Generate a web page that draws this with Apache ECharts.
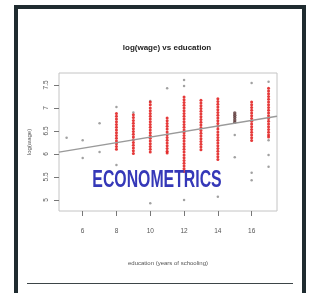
<!DOCTYPE html>
<html>
<head>
<meta charset="utf-8">
<script src="https://cdn.jsdelivr.net/npm/echarts@6/dist/echarts.min.js"></script>
<style>
html,body{margin:0;padding:0;background:#fff;}
#main{width:310px;height:293px;}
</style>
</head>
<body>
<div id="main"></div>
<script>
// education levels with the dense red columns
var eduLevels = [8, 9, 10, 11, 12, 13, 14, 16, 17];
var redCols = [
    [6.88,6.82,6.76,6.7,6.64,6.58,6.52,6.46,6.4,6.34,6.28,6.22,6.16,6.1],
    [6.85,6.79,6.73,6.67,6.61,6.55,6.49,6.43,6.37,6.31,6.25,6.19,6.13,6.07,6.01],
    [7.13,7.07,7.0,6.94,6.88,6.82,6.76,6.7,6.64,6.58,6.52,6.46,6.4,6.34,6.28,6.22,6.16,6.1,6.04],
    [6.78,6.72,6.66,6.6,6.54,6.48,6.42,6.36,6.3,6.24,6.18,6.12,6.06,6.02],
    [7.24,7.18,7.12,7.06,7.0,6.94,6.88,6.82,6.76,6.7,6.64,6.58,6.52,6.46,6.4,6.34,6.28,6.22,6.16,6.1,6.04,5.98,5.92,5.86,5.8,5.74,5.68,5.62],
    [7.17,7.11,7.05,6.99,6.93,6.87,6.81,6.75,6.69,6.63,6.57,6.51,6.45,6.39,6.33,6.27,6.21,6.15,6.09],
    [7.2,7.14,7.08,7.02,6.96,6.9,6.84,6.78,6.72,6.66,6.6,6.54,6.48,6.42,6.36,6.3,6.24,6.18,6.12,6.06,6.0,5.94,5.88],
    [7.13,7.07,7.01,6.95,6.89,6.83,6.77,6.71,6.65,6.59,6.53,6.47,6.41,6.35,6.29],
    [7.43,7.37,7.31,7.25,7.19,7.13,7.07,7.01,6.95,6.89,6.83,6.77,6.71,6.65,6.59,6.53,6.47,6.41,6.37]
];
// dark cluster at 15 years
var darkX = [15, 15, 15, 15, 15];
var darkY = [6.89, 6.84, 6.79, 6.74, 6.69];
// scattered grey points
var greyX = [5.05, 6, 6, 7, 7, 8, 8, 9, 10, 10, 11, 12, 12, 12, 14, 15, 15, 16, 16, 16, 17, 17, 17, 17];
var greyY = [6.35, 6.3, 5.91, 6.67, 6.04, 7.02, 5.76, 6.9, 7.15, 4.93, 7.43, 7.61, 7.48, 5.0, 5.07, 6.41, 5.93, 7.54, 5.59, 5.43, 7.57, 6.3, 5.98, 5.72];
// fitted line end points
var fitX = [4.6, 17.5];
var fitY = [6.04, 6.82];
var xTicks = [6, 8, 10, 12, 14, 16];
var yTicks = [5, 5.5, 6, 6.5, 7, 7.5];

var redData = [];
for (var i = 0; i < eduLevels.length; i++) {
    for (var j = 0; j < redCols[i].length; j++) {
        redData.push([eduLevels[i], redCols[i][j]]);
    }
}
function zip(a, b) {
    return a.map(function (v, k) { return [v, b[k]]; });
}

var myChart = echarts.init(document.getElementById('main'), null, {renderer: 'canvas'});
var option = {
    animation: false,
    grid: {left: 59, right: 33, top: 73, bottom: 82, show: true, borderColor: '#c4c4c4', borderWidth: 1},
    graphic: [
        {type: 'rect', shape: {x: 16, y: 7, width: 288, height: 300}, style: {fill: 'none', stroke: '#1f2b30', lineWidth: 4}},
        {type: 'line', shape: {x1: 27, y1: 283.5, x2: 293, y2: 283.5}, style: {stroke: '#3d4548', lineWidth: 1.2}},
        {type: 'text', x: 167, y: 48, style: {text: 'log(wage) vs education', fill: '#222', font: 'bold 8px "Liberation Sans"', align: 'center', verticalAlign: 'middle'}},
        {type: 'text', x: 157, y: 180, scaleX: 0.66, originX: 0, originY: 0, z: 100,
            style: {text: 'ECONOMETRICS', fill: '#3538b8', font: 'bold 24px "Liberation Sans"', align: 'center', verticalAlign: 'middle'}}
    ],
    xAxis: {
        type: 'value', min: 4.6, max: 17.5,
        name: 'education (years of schooling)', nameLocation: 'middle', nameGap: 49,
        nameTextStyle: {fontSize: 6, color: '#555', fontFamily: 'Liberation Sans'},
        splitLine: {show: false},
        axisLine: {show: false},
        axisTick: {show: true, length: 5, lineStyle: {color: '#777'}, customValues: xTicks},
        axisLabel: {fontSize: 6.5, color: '#555', margin: 17, customValues: xTicks, fontFamily: 'Liberation Sans'}
    },
    yAxis: {
        type: 'value', min: 4.76, max: 7.76,
        name: 'log(wage)', nameLocation: 'middle', nameGap: 27, nameRotate: 90,
        nameTextStyle: {fontSize: 6, color: '#555', fontFamily: 'Liberation Sans'},
        splitLine: {show: false},
        axisLine: {show: false},
        axisTick: {show: true, length: 5, lineStyle: {color: '#777'}, customValues: yTicks},
        axisLabel: {fontSize: 6.5, color: '#555', margin: 9, rotate: 90, customValues: yTicks, fontFamily: 'Liberation Sans'}
    },
    series: [
        {type: 'scatter', data: zip(greyX, greyY), symbolSize: 2.5, itemStyle: {color: '#8a8a8a', opacity: 0.8}},
        {type: 'scatter', data: redData, symbolSize: 3, itemStyle: {color: '#e01818', opacity: 0.85}},
        {type: 'scatter', data: zip(darkX, darkY), symbolSize: 3.5, itemStyle: {color: '#5a3535'}},
        {type: 'line', data: zip(fitX, fitY), symbol: 'none', lineStyle: {color: '#9a9a9a', width: 1.5}, z: 3}
    ]
};
myChart.setOption(option);
</script>
</body>
</html>
